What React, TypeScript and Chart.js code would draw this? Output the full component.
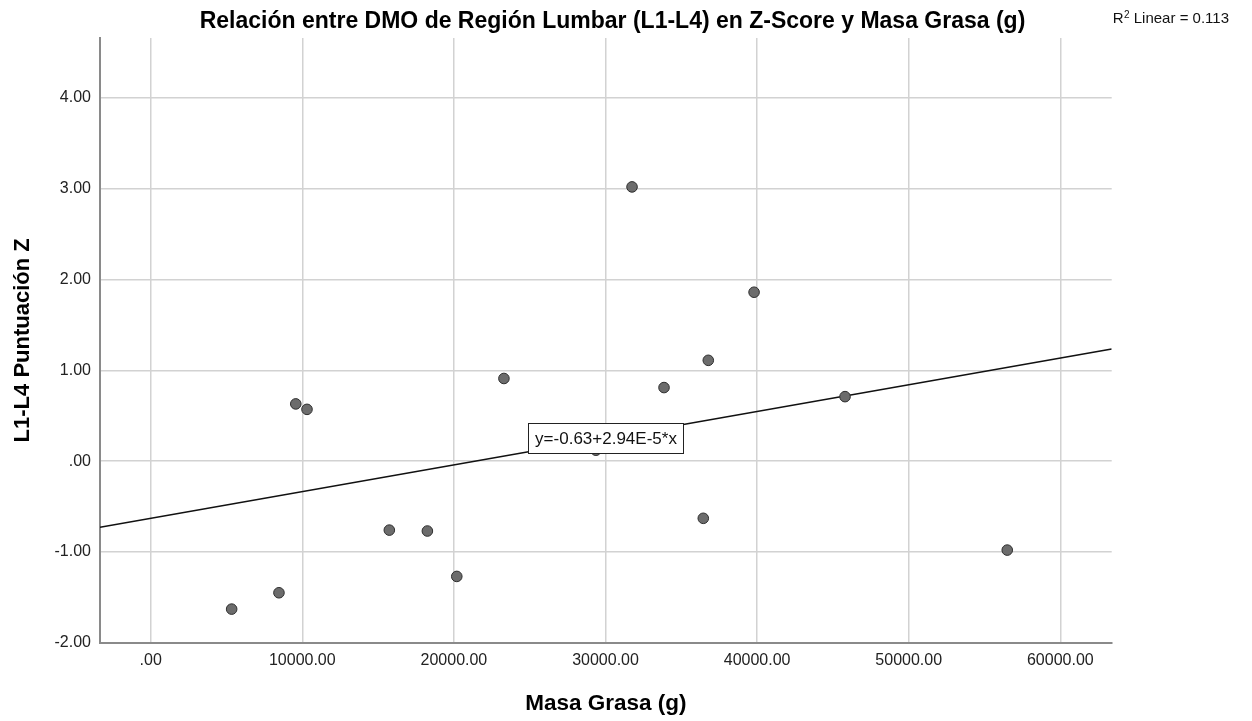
import React, { useEffect, useRef } from 'react';
import { Chart, registerables } from 'chart.js';

Chart.register(...registerables);

// ---- Data ----
const masaGrasa = [5340, 8460, 9570, 10310, 15740, 18250, 20190, 23300, 29370, 31750, 33860, 36450, 36780, 39800, 45800, 56500];
const zScore = [-1.63, -1.45, 0.63, 0.57, -0.76, -0.77, -1.27, 0.91, 0.12, 3.02, 0.81, -0.63, 1.11, 1.86, 0.71, -0.98];

// Fit line end points (at the axis limits)
const fitX = [-3344, 63390];
const fitY = [-0.728, 1.234];

// Tick values
const xTickValues = [0, 10000, 20000, 30000, 40000, 50000, 60000];
const yTickValues = [-2, -1, 0, 1, 2, 3, 4];

const xMin = -3344;
const xMax = 63390;
const yMin = -2;
const yMax = 4.66;

const chartTitle = 'Relación entre DMO de Región Lumbar (L1-L4) en Z-Score y Masa Grasa (g)';
const xTitle = 'Masa Grasa (g)';
const yTitle = 'L1-L4 Puntuación Z';
const equationLabel = 'y=-0.63+2.94E-5*x';
const equationAt = 0.25;
const r2Parts = ['R', '2', ' Linear = 0.113'];

const FONT = '"Liberation Sans", Arial, Helvetica, sans-serif';

const fmt = (v: number) => (v === 0 ? '.00' : Number(v).toFixed(2));

const annotations = {
  id: 'spssAnnotations',
  afterDatasetsDraw(chart: any) {
    const { ctx, chartArea, scales } = chart;
    ctx.save();
    const cx = (chartArea.left + chartArea.right) / 2;
    const cy = scales.y.getPixelForValue(equationAt);
    const w = 155;
    const h = 30;
    const bx = Math.round(cx - w / 2) + 0.5;
    const by = Math.round(cy - h / 2) + 0.5;
    ctx.fillStyle = '#ffffff';
    ctx.fillRect(bx, by, w, h);
    ctx.strokeStyle = '#222222';
    ctx.lineWidth = 1;
    ctx.strokeRect(bx, by, w, h);
    ctx.font = `17px ${FONT}`;
    ctx.fillStyle = '#111111';
    ctx.textAlign = 'center';
    ctx.textBaseline = 'middle';
    ctx.fillText(equationLabel, bx + w / 2, by + h / 2 + 1);
    ctx.restore();
  },
  afterDraw(chart: any) {
    const { ctx, chartArea } = chart;
    ctx.save();
    ctx.fillStyle = '#111111';
    ctx.textAlign = 'left';
    ctx.textBaseline = 'alphabetic';
    let x = chartArea.right + 1;
    const base = 23;
    ctx.font = `15px ${FONT}`;
    ctx.fillText(r2Parts[0], x, base);
    x += ctx.measureText(r2Parts[0]).width + 0.5;
    ctx.font = `10px ${FONT}`;
    ctx.fillText(r2Parts[1], x, base - 5);
    x += ctx.measureText(r2Parts[1]).width;
    ctx.font = `15px ${FONT}`;
    ctx.fillText(r2Parts[2], x, base);
    ctx.restore();
  },
};

export default function App() {
  const ref = useRef<HTMLCanvasElement | null>(null);

  useEffect(() => {
    document.body.style.margin = '0';
    const canvas = ref.current;
    if (!canvas) return;
    const chart = new Chart(canvas, {
      type: 'scatter',
      data: {
        datasets: [
          {
            type: 'scatter',
            label: 'Datos',
            data: masaGrasa.map((x, i) => ({ x, y: zScore[i] })),
            backgroundColor: '#6c6c6c',
            borderColor: '#2e2e2e',
            borderWidth: 1,
            pointRadius: 5.3,
            pointHoverRadius: 5.3,
          },
          {
            type: 'line',
            label: 'Lineal',
            data: fitX.map((x, i) => ({ x, y: fitY[i] })),
            borderColor: '#111111',
            borderWidth: 1.5,
            pointRadius: 0,
            fill: false,
            tension: 0,
          },
        ],
      } as any,
      options: {
        responsive: false,
        animation: false,
        devicePixelRatio: 1,
        layout: { padding: { left: 0, right: 27, top: 0, bottom: 0 } },
        plugins: {
          legend: { display: false },
          tooltip: { enabled: false },
          title: {
            display: true,
            text: chartTitle,
            color: '#000000',
            font: { family: FONT, size: 23, weight: 'bold', lineHeight: 1.2 },
            padding: { top: 8.2, bottom: 2.2 },
          },
        },
        scales: {
          x: {
            type: 'linear',
            position: 'bottom',
            min: xMin,
            max: xMax,
            afterBuildTicks: (s: any) => {
              s.ticks = xTickValues.map((value) => ({ value }));
            },
            afterFit: (s: any) => {
              s.height = 78.3;
            },
            ticks: {
              padding: 8,
              color: '#222222',
              font: { family: FONT, size: 16 },
              maxRotation: 0,
              autoSkip: false,
              callback: (v: any) => fmt(Number(v)),
            },
            grid: { color: '#d2d2d2', lineWidth: 1.5, drawTicks: false },
            border: { display: true, color: '#8a8a8a', width: 2 },
            title: {
              display: true,
              text: xTitle,
              color: '#000000',
              font: { family: FONT, size: 22.5, weight: 'bold', lineHeight: 1.2 },
              padding: { top: 0, bottom: 4 },
            },
          },
          y: {
            type: 'linear',
            position: 'left',
            min: yMin,
            max: yMax,
            afterBuildTicks: (s: any) => {
              s.ticks = yTickValues.map((value) => ({ value }));
            },
            afterFit: (s: any) => {
              s.width = 100;
            },
            ticks: {
              padding: 9,
              color: '#222222',
              font: { family: FONT, size: 16 },
              autoSkip: false,
              callback: (v: any) => fmt(Number(v)),
            },
            grid: { color: '#d2d2d2', lineWidth: 1.5, drawTicks: false },
            border: { display: true, color: '#8a8a8a', width: 2 },
            title: {
              display: true,
              text: yTitle,
              color: '#000000',
              font: { family: FONT, size: 22, weight: 'bold', lineHeight: 1.2 },
              padding: { top: 10, bottom: 0 },
            },
          },
          spacer: {
            type: 'linear',
            position: 'right',
            display: true,
            afterFit: (s: any) => {
              s.width = 1252 - 27 - 1111.7;
            },
            ticks: { display: false },
            grid: { display: false, drawTicks: false },
            border: { display: false },
          },
        },
      } as any,
      plugins: [annotations],
    });
    return () => chart.destroy();
  }, []);

  return (
    <div style={{ width: 1252, height: 721 }}>
      <canvas ref={ref} width={1252} height={721} style={{ display: 'block' }} />
    </div>
  );
}
